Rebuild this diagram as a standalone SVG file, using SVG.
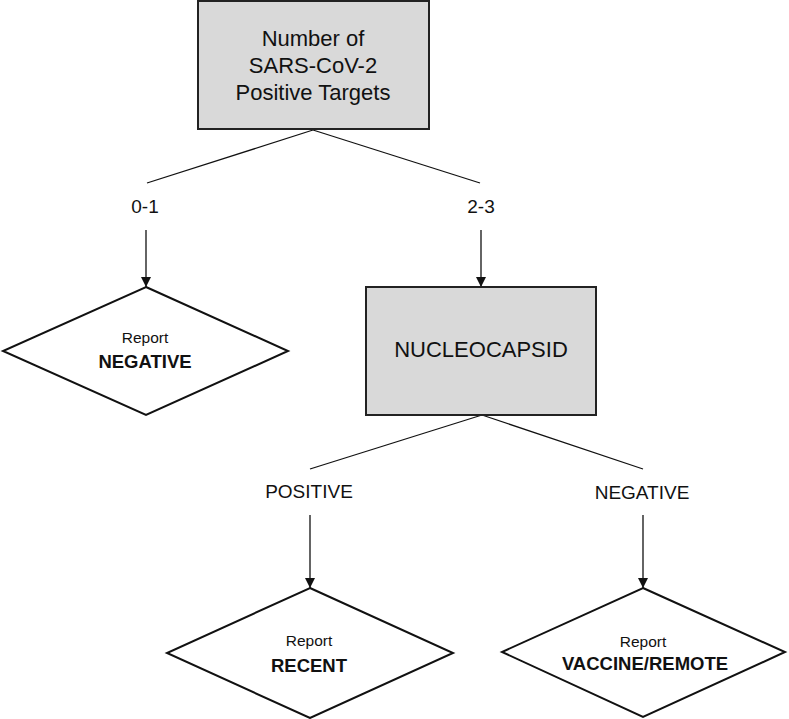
<svg xmlns="http://www.w3.org/2000/svg" width="789" height="719" viewBox="0 0 789 719">
<defs>
<style>
.box{fill:#d9d9d9;stroke:#222;stroke-width:2}
.dia{fill:#fff;stroke:#111;stroke-width:2}
.ln{stroke:#111;stroke-width:1.3;fill:none}
.t{font-family:"Liberation Sans",Arial,sans-serif;fill:#111;text-anchor:middle}
.big{font-size:22px}
.lbl{font-size:19px}
.rep{font-size:15.5px}
.bold{font-size:18.5px;font-weight:bold}
</style>
<marker id="ah" viewBox="0 0 10 10" refX="10" refY="5" markerWidth="11" markerHeight="10" markerUnits="userSpaceOnUse" orient="auto">
<path d="M0,0 L10,5 L0,10 Z" fill="#111"/>
</marker>
</defs>
<rect width="789" height="719" fill="#fff"/>
<g id="connectors">
<line class="ln" x1="313" y1="130" x2="147" y2="183"/>
<line class="ln" x1="313" y1="130" x2="480" y2="183"/>
<line class="ln" x1="146" y1="230" x2="146" y2="287" marker-end="url(#ah)"/>
<line class="ln" x1="481" y1="230" x2="481" y2="287" marker-end="url(#ah)"/>
<line class="ln" x1="482" y1="415" x2="310" y2="469"/>
<line class="ln" x1="482" y1="415" x2="643" y2="469"/>
<line class="ln" x1="310" y1="515" x2="310" y2="588" marker-end="url(#ah)"/>
<line class="ln" x1="643" y1="515" x2="643" y2="588" marker-end="url(#ah)"/>
<text class="t lbl" x="145" y="213">0-1</text>
<text class="t lbl" x="481" y="213">2-3</text>
<text class="t lbl" x="309" y="498">POSITIVE</text>
<text class="t lbl" x="642" y="499">NEGATIVE</text>
</g>
<g id="targets">
<rect class="box" x="198" y="1" width="231" height="128"/>
<text class="t big" x="313" y="46">Number of</text>
<text class="t big" x="313" y="73">SARS-CoV-2</text>
<text class="t big" x="313" y="100">Positive Targets</text>
</g>
<g id="negative">
<polygon class="dia" points="146,287 288,351 146,415 3,351"/>
<text class="t rep" x="145" y="343">Report</text>
<text class="t bold" x="145" y="368">NEGATIVE</text>
</g>
<g id="nucleocapsid">
<rect class="box" x="366" y="287" width="230" height="128"/>
<text class="t big" x="481" y="357">NUCLEOCAPSID</text>
</g>
<g id="recent">
<polygon class="dia" points="310,588 453,653 310,718 167,653"/>
<text class="t rep" x="309" y="646">Report</text>
<text class="t bold" x="309" y="672">RECENT</text>
</g>
<g id="vaccine">
<polygon class="dia" points="643,588 785,652 643,717 502,652"/>
<text class="t rep" x="643" y="647">Report</text>
<text class="t bold" x="645" y="670">VACCINE/REMOTE</text>
</g>
</svg>
